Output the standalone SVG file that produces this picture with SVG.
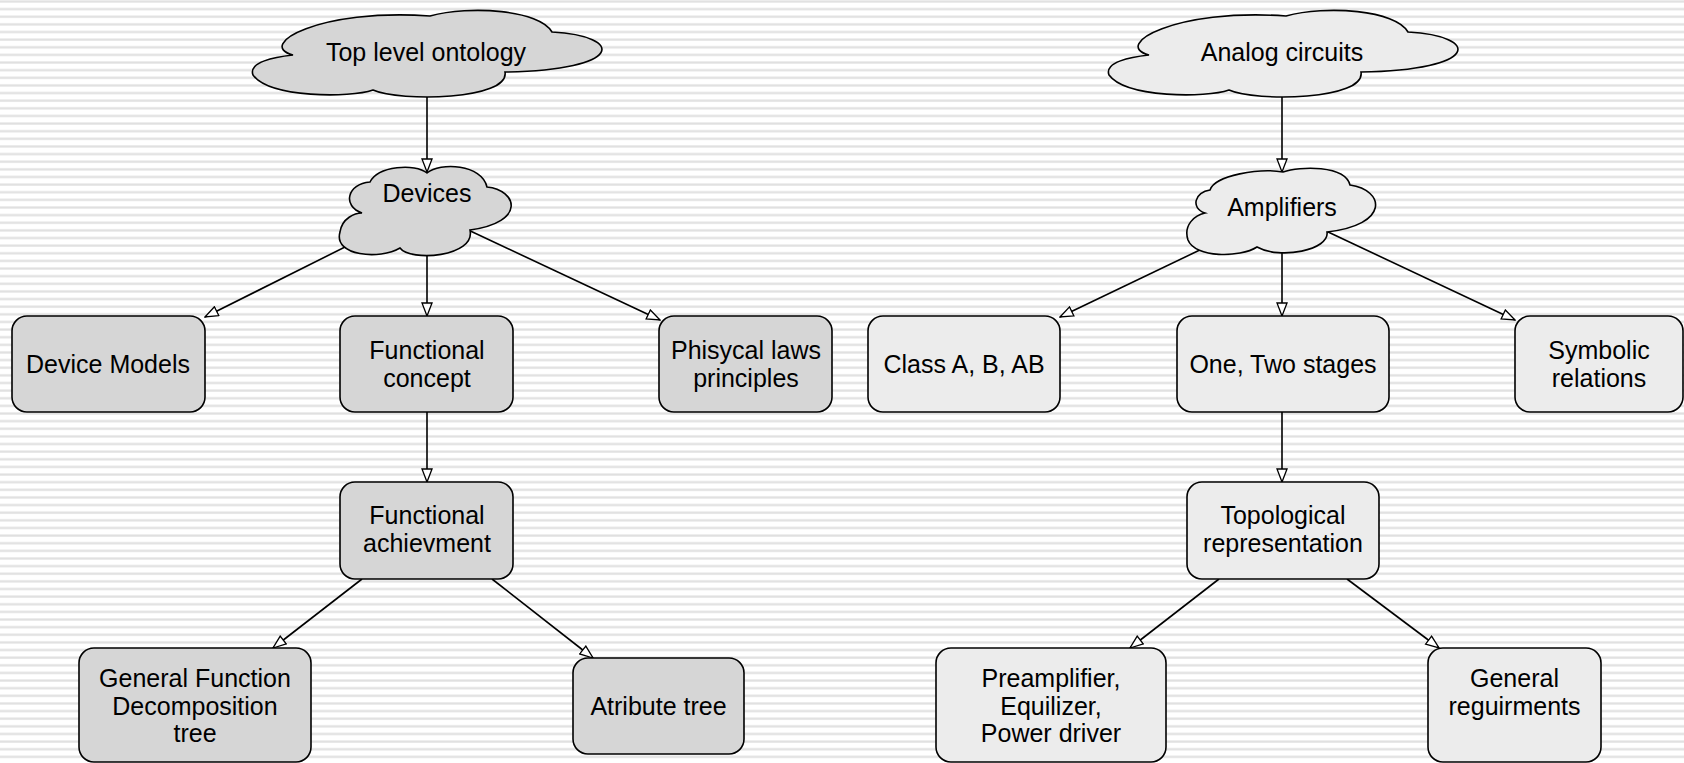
<svg xmlns="http://www.w3.org/2000/svg" width="1684" height="763" viewBox="0 0 1684 763">
<defs>
<pattern id="stripes" x="0" y="0" width="20" height="7.63" patternUnits="userSpaceOnUse">
<rect x="0" y="0" width="20" height="7.63" fill="#ffffff"/>
<rect x="0" y="0.4" width="20" height="2.2" fill="#e0e0e0"/>
</pattern>
<marker id="arr" viewBox="0 0 15 12" refX="14" refY="6" markerWidth="15" markerHeight="12" orient="auto" markerUnits="userSpaceOnUse">
<path d="M1,1 L14,6 L1,11 Z" fill="#ffffff" stroke="#000000" stroke-width="1.3" stroke-linejoin="miter"/>
</marker>
<path id="bigcloud" d="M293,55 C255,45 320,8 430,16 C470,5 540,10 552,32 C625,36 625,70 505,72 C510,100 400,102 373,90 C350,98 270,98 253,75 C248,62 275,57 293,55 Z"/>
</defs>
<style>
text{font-family:"Liberation Sans",Arial,sans-serif;font-size:25px;fill:#000;text-anchor:middle}
.l{fill:#d6d6d6;stroke:#000;stroke-width:1.6}
.r{fill:#ececec;stroke:#000;stroke-width:1.6}
.c line{stroke:#000;stroke-width:1.6;marker-end:url(#arr)}
</style>
<rect x="0" y="0" width="1684" height="763" fill="url(#stripes)"/>

<g id="connectors" class="c">
<line x1="427" y1="97" x2="427" y2="172"/>
<line x1="349" y1="245" x2="205" y2="317"/>
<line x1="427" y1="252" x2="427" y2="316"/>
<line x1="464" y1="228" x2="660" y2="320"/>
<line x1="427" y1="412" x2="427" y2="482"/>
<line x1="362" y1="579" x2="273" y2="648"/>
<line x1="492" y1="579" x2="593" y2="658"/>
<line x1="1282" y1="97" x2="1282" y2="172"/>
<line x1="1204" y1="248" x2="1060" y2="317"/>
<line x1="1282" y1="252" x2="1282" y2="316"/>
<line x1="1326" y1="231" x2="1515" y2="320"/>
<line x1="1282" y1="412" x2="1282" y2="482"/>
<line x1="1219" y1="579" x2="1130" y2="648"/>
<line x1="1347" y1="579" x2="1439" y2="648"/>
</g>

<g id="top-level-ontology">
<use href="#bigcloud" class="l"/>
<text x="426" y="61">Top level ontology</text>
</g>
<g id="devices">
<path class="l" d="M362,213 C342,206 347,184 370,182 C378,166 415,163 427,173 C440,162 482,164 487,187 C517,190 527,222 470,230 C476,257 410,262 400,248 C380,260 333,256 340,232 C342,218 355,213 362,213 Z"/>
<text x="427" y="202">Devices</text>
</g>
<g id="device-models">
<rect class="l" x="12" y="316" width="193" height="96" rx="15"/>
<text x="108" y="373">Device Models</text>
</g>
<g id="functional-concept">
<rect class="l" x="340" y="316" width="173" height="96" rx="15"/>
<text x="427" y="359">Functional</text>
<text x="427" y="387">concept</text>
</g>
<g id="phisycal-laws">
<rect class="l" x="659" y="316" width="173" height="96" rx="15"/>
<text x="746" y="359">Phisycal laws</text>
<text x="746" y="387">principles</text>
</g>
<g id="functional-achievment">
<rect class="l" x="340" y="482" width="173" height="97" rx="15"/>
<text x="427" y="524">Functional</text>
<text x="427" y="552">achievment</text>
</g>
<g id="general-function">
<rect class="l" x="79" y="648" width="232" height="114" rx="15"/>
<text x="195" y="687">General Function</text>
<text x="195" y="714.5">Decomposition</text>
<text x="195" y="742">tree</text>
</g>
<g id="atribute-tree">
<rect class="l" x="573" y="658" width="171" height="96" rx="15"/>
<text x="658.5" y="715">Atribute tree</text>
</g>

<g id="analog-circuits">
<use href="#bigcloud" class="r" transform="translate(856,0)"/>
<text x="1282" y="61">Analog circuits</text>
</g>
<g id="amplifiers">
<path class="r" d="M1205,213 C1190,208 1195,192 1210,190 C1215,175 1260,168 1283,172 C1300,166 1345,165 1350,185 C1385,190 1390,225 1327,232 C1330,250 1280,260 1257,247 C1240,258 1195,258 1188,240 C1183,225 1195,215 1205,213 Z"/>
<text x="1282" y="216">Amplifiers</text>
</g>
<g id="class-a-b-ab">
<rect class="r" x="868" y="316" width="192" height="96" rx="15"/>
<text x="964" y="373">Class A, B, AB</text>
</g>
<g id="one-two-stages">
<rect class="r" x="1177" y="316" width="212" height="96" rx="15"/>
<text x="1283" y="373">One, Two stages</text>
</g>
<g id="symbolic-relations">
<rect class="r" x="1515" y="316" width="168" height="96" rx="15"/>
<text x="1599" y="359">Symbolic</text>
<text x="1599" y="387">relations</text>
</g>
<g id="topological-representation">
<rect class="r" x="1187" y="482" width="192" height="97" rx="15"/>
<text x="1283" y="524">Topological</text>
<text x="1283" y="552">representation</text>
</g>
<g id="preamplifier">
<rect class="r" x="936" y="648" width="230" height="114" rx="15"/>
<text x="1051" y="687">Preamplifier,</text>
<text x="1051" y="714.5">Equilizer,</text>
<text x="1051" y="742">Power driver</text>
</g>
<g id="general-reguirments">
<rect class="r" x="1428" y="648" width="173" height="114" rx="15"/>
<text x="1514.5" y="687">General</text>
<text x="1514.5" y="715">reguirments</text>
</g>
</svg>
